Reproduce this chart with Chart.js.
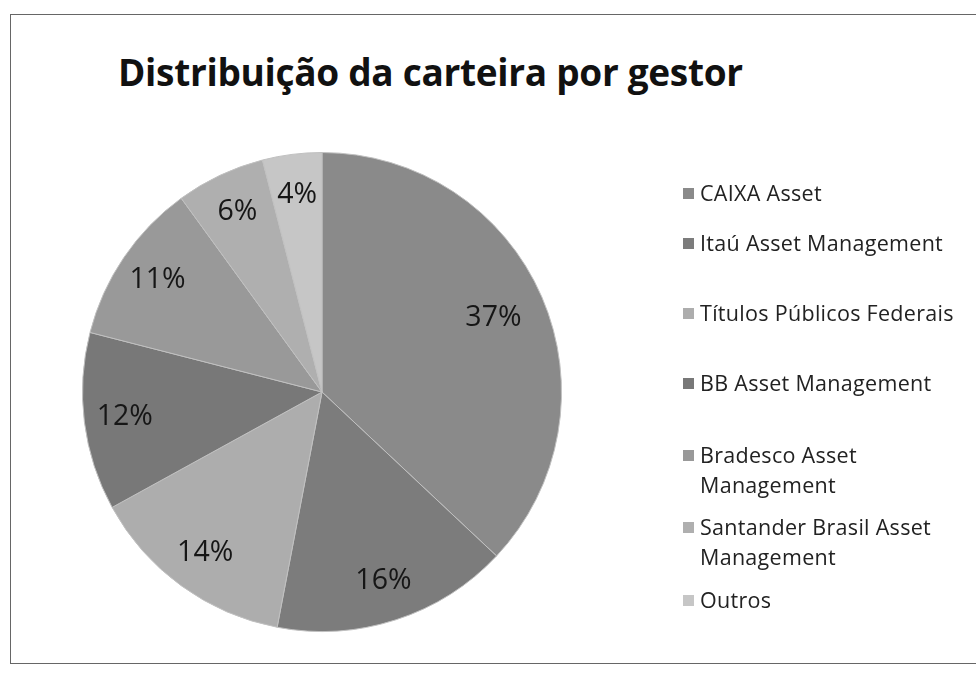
<!DOCTYPE html>
<html>
<head>
<meta charset="utf-8">
<script src="https://cdn.jsdelivr.net/npm/chart.js@4.4.1/dist/chart.umd.min.js"></script>
<style>
  html, body { margin: 0; padding: 0; background: #fff; }
  #wrap { position: relative; width: 976px; height: 697px; overflow: hidden; }
  #frame { position: absolute; left: 10px; top: 14px; width: 980px; height: 648px; border: 1px solid #666; }
  #title { position: absolute; left: 118px; top: 46px; font-family: "Open Sans", sans-serif; font-weight: 700;
           font-size: 37px; color: #111; white-space: nowrap; letter-spacing: -0.3px; }
  #legend { position: absolute; left: 683px; top: 0; font-family: "Open Sans", sans-serif; font-size: 21.5px; color: #222; }
  .item { position: absolute; left: 0; width: 293px; line-height: 30px; padding-left: 17px; white-space: nowrap; letter-spacing: 0.3px; }
  .box { position: absolute; left: 0; top: 10px; width: 11px; height: 11px; }
  canvas { position: absolute; left: 0; top: 0; }
</style>
</head>
<body>
<div id="wrap">
  <div id="frame"></div>
  <div id="title">Distribuição da carteira por gestor</div>
  <canvas id="myChart" width="976" height="697"></canvas>
  <div id="legend"></div>
</div>
<script>
const labels = [
  "CAIXA Asset",
  "Itaú Asset Management",
  "Títulos Públicos Federais",
  "BB Asset Management",
  ["Bradesco Asset", "Management"],
  ["Santander Brasil Asset", "Management"],
  "Outros",
];
const shares = [37, 16, 14, 12, 11, 6, 4];
const colors = ["#8a8a8a", "#7c7c7c", "#adadad", "#787878", "#999999", "#afafaf", "#c6c6c6"];
const legendTops = [178, 228, 298, 368, 440, 512, 585];

// percentage labels drawn on the slices
const sliceLabels = {
  id: "sliceLabels",
  afterDatasetsDraw(chart) {
    const ctx = chart.ctx;
    const arcs = chart.getDatasetMeta(0).data;
    ctx.save();
    ctx.font = "28.5px 'Open Sans', sans-serif";
    ctx.fillStyle = "#161616";
    ctx.textAlign = "center";
    ctx.textBaseline = "middle";
    arcs.forEach((arc, i) => {
      const mid = (arc.startAngle + arc.endAngle) / 2;
      const k = i === 0 ? 0.78 : 0.83;
      const x = arc.x + Math.cos(mid) * arc.outerRadius * k;
      const y = arc.y + Math.sin(mid) * arc.outerRadius * k;
      ctx.fillText(shares[i] + "%", x, y);
    });
    ctx.restore();
  },
};

const ctx = document.getElementById("myChart");
new Chart(ctx, {
  type: "pie",
  data: {
    labels: labels,
    datasets: [
      {
        data: shares,
        backgroundColor: colors,
        borderColor: "#c0c0c0",
        borderWidth: 1,
      },
    ],
  },
  options: {
    responsive: false,
    animation: false,
    layout: { padding: { left: 82, top: 152, right: 414, bottom: 65 } },
    plugins: {
      legend: { display: false },
      tooltip: { enabled: false },
    },
  },
  plugins: [sliceLabels],
});

// legend on the right
const legend = document.getElementById("legend");
labels.forEach((label, i) => {
  const item = document.createElement("div");
  item.className = "item";
  item.style.top = legendTops[i] + "px";
  const box = document.createElement("span");
  box.className = "box";
  box.style.background = colors[i];
  item.appendChild(box);
  const lines = Array.isArray(label) ? label : [label];
  lines.forEach((line, j) => {
    if (j > 0) item.appendChild(document.createElement("br"));
    item.appendChild(document.createTextNode(line));
  });
  legend.appendChild(item);
});
</script>
</body>
</html>
